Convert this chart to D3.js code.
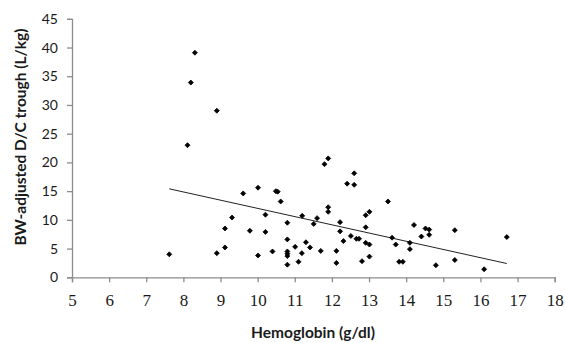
<!DOCTYPE html>
<html><head><meta charset="utf-8">
<script src="https://cdn.jsdelivr.net/npm/d3@7"></script>
<style>
html,body{margin:0;padding:0;background:#fff;}
svg{display:block;}
</style></head>
<body>
<svg id="chart" width="566" height="343"></svg>
<script>
// Data
const hemoglobin = [7.62,8.11,8.20,8.31,8.90,8.90,9.12,9.12,9.31,9.61,9.79,10.01,10.01,10.21,10.21,10.40,10.49,10.54,10.62,10.80,10.80,10.80,10.80,10.80,10.80,11.01,11.10,11.19,11.20,11.30,11.41,11.51,11.60,11.70,11.80,11.90,11.90,11.90,12.12,12.12,12.22,12.22,12.31,12.41,12.51,12.60,12.60,12.66,12.73,12.81,12.91,12.91,12.91,13.01,13.01,13.01,13.51,13.62,13.72,13.81,13.91,14.10,14.10,14.21,14.41,14.52,14.62,14.62,14.80,15.31,15.31,16.10,16.71];
const trough = [4.0,23.0,33.9,39.1,29.0,4.2,5.2,8.5,10.4,14.6,8.1,15.6,3.8,10.9,7.9,4.5,15.0,14.9,13.2,9.5,6.6,4.5,4.1,3.7,2.2,5.3,2.7,4.2,10.7,6.1,5.2,9.3,10.3,4.6,19.7,20.7,12.2,11.4,4.6,2.5,9.6,8.0,6.3,16.3,7.2,18.1,16.1,6.7,6.7,2.8,10.8,8.7,6.0,11.4,5.7,3.6,13.2,6.9,5.7,2.7,2.7,6.0,4.9,9.1,7.1,8.5,8.3,7.4,2.1,8.2,3.0,1.4,7.0];
const trendX = [7.62, 16.71];
const trendY = [15.4, 2.4];
const xTicks = [5,6,7,8,9,10,11,12,13,14,15,16,17,18];
const yTicks = [0,5,10,15,20,25,30,35,40,45];
const xTitle = "Hemoglobin (g/dl)";
const yTitle = "BW-adjusted D/C trough (L/kg)";

const svg = d3.select("#chart");
const x = d3.scaleLinear().domain([5,18]).range([72,554.7]);
const y = d3.scaleLinear().domain([0,45]).range([277.3,18.8]);
const axisColor = "#8c8c8c";

// Y axis
const yAxis = svg.append("g").attr("transform","translate(72,0)")
  .call(d3.axisLeft(y).tickValues(yTicks).tickSize(5).tickPadding(9).tickFormat(d3.format("d")));
yAxis.select(".domain").attr("stroke",axisColor).attr("stroke-width",1.3);
yAxis.selectAll(".tick line").attr("stroke",axisColor).attr("stroke-width",1.3);
yAxis.selectAll(".tick text").attr("fill","#1a1a1a")
  .style("font-family","Lato, 'Open Sans', sans-serif").style("font-size","14px");

// X axis
const xAxis = svg.append("g").attr("transform","translate(0,277.3)")
  .call(d3.axisBottom(x).tickValues(xTicks).tickSize(5).tickSizeOuter(5).tickPadding(12).tickFormat(d3.format("d")));
xAxis.select(".domain").attr("stroke",axisColor).attr("stroke-width",1.3);
xAxis.selectAll(".tick line").attr("stroke",axisColor).attr("stroke-width",1.3);
xAxis.selectAll(".tick text").attr("fill","#1a1a1a")
  .style("font-family","'Liberation Serif', 'DejaVu Serif', serif").style("font-size","17px");

// Trend line
svg.append("line")
  .attr("x1",x(trendX[0])).attr("y1",y(trendY[0]))
  .attr("x2",x(trendX[1])).attr("y2",y(trendY[1]))
  .attr("stroke","#222").attr("stroke-width",1);

// Points (small square-diamond markers)
const pts = hemoglobin.map((h,i)=>({h, t: trough[i]}));
const r = 2.5;
const marker = `M0,${-r}L${r},0L0,${r}L${-r},0Z`;
svg.append("g").selectAll("path").data(pts).enter().append("path")
  .attr("d", marker)
  .attr("transform", d => `translate(${x(d.h)},${y(d.t)})`)
  .attr("fill","#000").attr("stroke","#000").attr("stroke-width",0.8).attr("stroke-linejoin","round");

// Titles
svg.append("text").attr("x",313).attr("y",338).attr("text-anchor","middle")
  .style("font-family","Lato, 'Open Sans', sans-serif").style("font-weight","bold").style("font-size","15.5px")
  .attr("fill","#1a1a1a").text(xTitle);
svg.append("text").attr("transform","translate(26,137) rotate(-90)").attr("text-anchor","middle")
  .style("font-family","Lato, 'Open Sans', sans-serif").style("font-weight","bold").style("font-size","15.5px")
  .attr("fill","#1a1a1a").text(yTitle);
</script>
</body></html>
